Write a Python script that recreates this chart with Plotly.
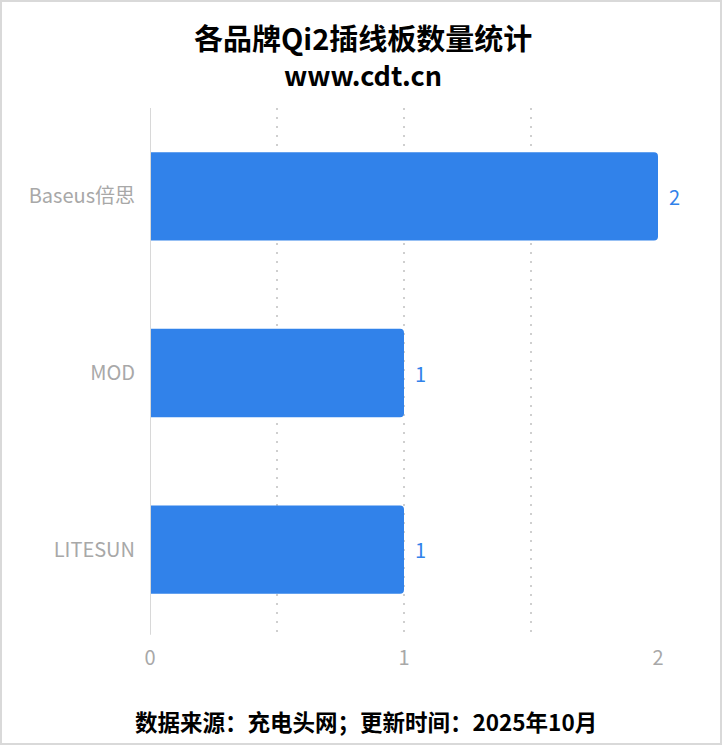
import plotly.graph_objects as go

brands = ["Baseus倍思", "MOD", "LITESUN"]
counts = [2, 1, 1]
tick_vals = [0, 0.5, 1, 1.5, 2]
tick_text = ["0", "", "1", "", "2"]

W, H = 722, 745
ml, mr, mt, mb = 150, 64, 108, 107
pw, ph = W - ml - mr, H - mt - mb
FONT = "Noto Sans CJK SC"
BLUE = "#3182EA"

fig = go.Figure(go.Bar(
    x=counts, y=brands, orientation="h",
    marker=dict(color=BLUE, cornerradius=4, line=dict(width=0)),
    width=0.5,
    cliponaxis=False,
))

value_labels = [
    dict(x=c, y=b, text=str(c), xref="x", yref="y", xanchor="left", yanchor="middle",
         xshift=9, showarrow=False, font=dict(color=BLUE, size=20, family=FONT))
    for b, c in zip(brands, counts)
]

fig.update_layout(
    width=W, height=H,
    margin=dict(l=ml, r=mr, t=mt, b=mb),
    paper_bgcolor="white", plot_bgcolor="white",
    showlegend=False,
    xaxis=dict(range=[0, 2], tickvals=tick_vals, ticktext=tick_text,
               showgrid=True, gridcolor="#cfcfcf", griddash="2px,7px", gridwidth=1.5,
               zeroline=False, showline=False, ticks="", ticklabelstandoff=6,
               tickfont=dict(color="#a8a8a8", size=20, family=FONT)),
    yaxis=dict(categoryorder="array", categoryarray=brands[::-1],
               range=[-0.5, 2.5],
               showgrid=False, zeroline=False, showline=False, ticks="", ticklabelstandoff=14,
               tickfont=dict(color="#a8a8a8", size=20, family=FONT)),
    font=dict(family=FONT),
    shapes=[
        dict(type="line", xref="x", yref="paper", x0=0, x1=0, y0=0.006, y1=1,
             line=dict(color="#d8d8d8", width=2)),
        dict(type="rect", xref="paper", yref="paper",
             x0=-ml / pw, x1=1 + mr / pw, y0=-mb / ph, y1=1 + mt / ph,
             line=dict(color="#d9d9d9", width=4), fillcolor="rgba(0,0,0,0)"),
    ],
    annotations=value_labels + [
        dict(text="<b>各品牌Qi2插线板数量统计</b>", xref="paper", yref="paper",
             x=(W / 2 + 2 - ml) / pw, y=1 + (mt - 37) / ph, xanchor="center", yanchor="middle",
             showarrow=False, font=dict(size=29, color="black", family=FONT)),
        dict(text="<b>www.cdt.cn</b>", xref="paper", yref="paper",
             x=(W / 2 + 2 - ml) / pw, y=1 + (mt - 75) / ph, xanchor="center", yanchor="middle",
             showarrow=False, font=dict(size=27, color="black", family=FONT)),
        dict(text="<b>数据来源：充电头网；更新时间：2025年10月</b>", xref="paper", yref="paper",
             x=(366 - ml) / pw, y=-(721 - mt - ph) / ph, xanchor="center", yanchor="middle",
             showarrow=False, font=dict(size=22.5, color="black", family=FONT)),
    ],
)

fig.write_html("out.html", config={"displayModeBar": False},
               post_script="document.body.style.margin='0';document.body.style.overflow='hidden';")
